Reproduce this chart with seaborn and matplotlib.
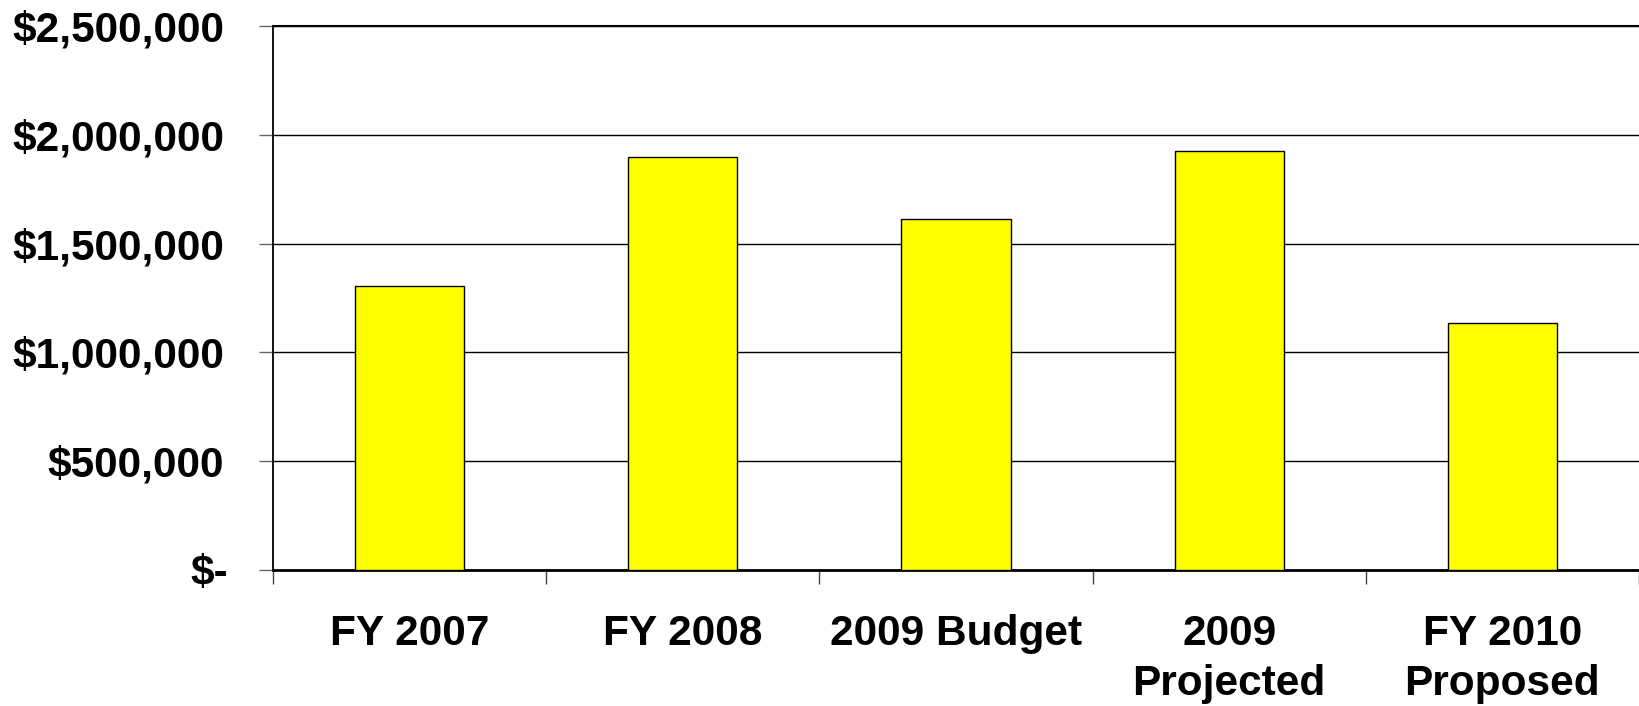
import matplotlib
matplotlib.use("Agg")
import matplotlib.pyplot as plt
import matplotlib.transforms as mtransforms
import seaborn as sns
import pandas as pd

categories = ["FY 2007", "FY 2008", "2009 Budget", "2009\nProjected", "FY 2010\nProposed"]
values = [1305000, 1900000, 1615000, 1927000, 1135000]
y_ticks = [0, 500000, 1000000, 1500000, 2000000, 2500000]
y_tick_labels = ["$-", "$500,000", "$1,000,000", "$1,500,000", "$2,000,000", "$2,500,000"]

sns.set_theme(style="white")
plt.rcParams["font.family"] = ["Liberation Sans", "DejaVu Sans"]
plt.rcParams["font.weight"] = "bold"

W, H = 1639, 706
fig = plt.figure(figsize=(W / 100, H / 100), dpi=100)
ax = fig.add_axes([273 / W, 1 - 570 / H, (1639 - 273) / W, (570 - 26) / H])

df = pd.DataFrame({"category": categories, "value": values})
sns.barplot(data=df, x="category", y="value", color="#FFFF00", saturation=1,
            edgecolor="black", linewidth=1.0, width=0.4, ax=ax, zorder=3)

ax.set_xlim(-0.5, len(categories) - 0.5)
ax.set_ylim(0, 2500000)
ax.set_yticks(y_ticks)
ax.set_yticklabels(y_tick_labels, fontsize=30.5, fontweight="bold")
ax.set_xticks(range(len(categories)))
ax.set_xticklabels(categories, fontsize=30.5, fontweight="bold", linespacing=1.32)
ax.set_xticks([i - 0.5 for i in range(len(categories) + 1)], minor=True)
ax.set_xlabel("")
ax.set_ylabel("")

ax.yaxis.grid(True, color="black", linewidth=1.0, zorder=0)
ax.xaxis.grid(False)
ax.set_axisbelow(True)

ax.tick_params(axis="x", which="major", length=0, pad=32, colors="black")
ax.tick_params(axis="x", which="minor", length=10, width=1.0, color="#444444",
               bottom=True)
ax.tick_params(axis="y", which="major", length=10, width=1.0, color="#666666",
               pad=25, left=True, labelcolor="black")

for side in ("left", "top", "bottom"):
    ax.spines[side].set_visible(True)
    ax.spines[side].set_color("black")
ax.spines["left"].set_linewidth(1.3)
ax.spines["top"].set_linewidth(1.5)
ax.spines["bottom"].set_linewidth(2.0)
ax.spines["right"].set_visible(False)

# nudge the zero label a little to the right, as the accounting format does
zero_label = ax.get_yticklabels()[0]
zero_label.set_transform(zero_label.get_transform() +
                         mtransforms.ScaledTranslation(4 / 100, 0, fig.dpi_scale_trans))

fig.savefig("out.png", dpi=100, facecolor="white")
